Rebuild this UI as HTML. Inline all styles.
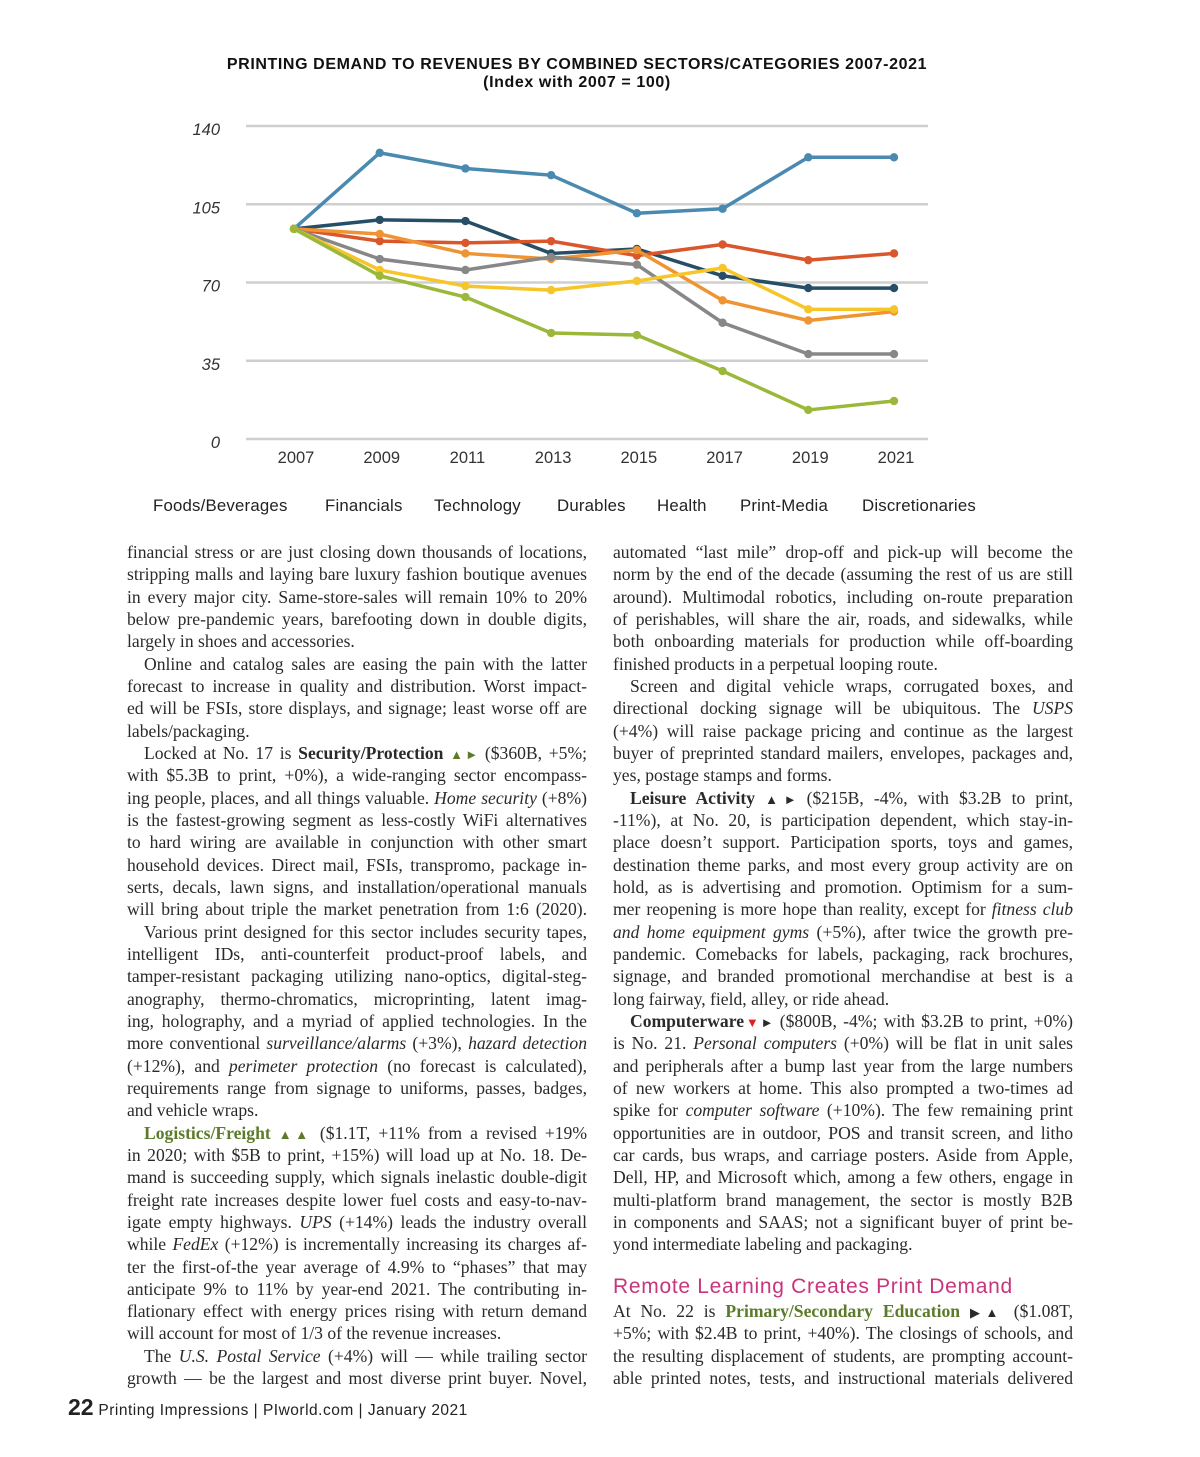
<!DOCTYPE html>
<html><head><meta charset="utf-8">
<style>
body{margin:0;width:1200px;height:1457px;background:#fff;position:relative;overflow:hidden;font-family:"Liberation Sans",sans-serif;color:#222}
.title{position:absolute;left:0;width:1154px;text-align:center;font-weight:bold;font-size:16px;letter-spacing:0.6px;color:#111}
.col{position:absolute;width:460px;font-family:"Liberation Serif",serif;font-size:17.6px;color:#2a2a2a;line-height:22.33px}
.col div{height:22.33px;overflow:hidden;text-align:justify;text-align-last:justify}
.col div.e{text-align-last:left}
.col div.i{text-indent:17px}
.g{color:#5b7a2a;font-weight:bold}
.tri{font-size:13px}
.leg{position:absolute;top:496px;font-size:16.8px;letter-spacing:0.2px;color:#222}
</style></head>
<body>
<div class="title" style="top:56px">PRINTING DEMAND TO REVENUES BY COMBINED SECTORS/CATEGORIES 2007-2021</div>
<div class="title" style="top:74px">(Index with 2007 = 100)</div>
<svg id="chart" width="1200" height="480" style="position:absolute;left:0;top:0"></svg>
<span class="leg" style="left:153px">Foods/Beverages</span>
<span class="leg" style="left:325px">Financials</span>
<span class="leg" style="left:434px">Technology</span>
<span class="leg" style="left:557px">Durables</span>
<span class="leg" style="left:657px">Health</span>
<span class="leg" style="left:740px">Print-Media</span>
<span class="leg" style="left:862px">Discretionaries</span>

<div class="col" style="left:127px;top:541px">
<div>financial stress or are just closing down thousands of locations,</div>
<div>stripping malls and laying bare luxury fashion boutique avenues</div>
<div>in every major city. Same-store-sales will remain 10% to 20%</div>
<div>below pre-pandemic years, barefooting down in double digits,</div>
<div class="e">largely in shoes and accessories.</div>
<div class="i">Online and catalog sales are easing the pain with the latter</div>
<div>forecast to increase in quality and distribution. Worst impact-</div>
<div>ed will be FSIs, store displays, and signage; least worse off are</div>
<div class="e">labels/packaging.</div>
<div class="i">Locked at No. 17 is <b>Security/Protection</b> <span class="g tri">▲►</span> ($360B, +5%;</div>
<div>with $5.3B to print, +0%), a wide-ranging sector encompass-</div>
<div>ing people, places, and all things valuable. <i>Home security</i> (+8%)</div>
<div>is the fastest-growing segment as less-costly WiFi alternatives</div>
<div>to hard wiring are available in conjunction with other smart</div>
<div>household devices. Direct mail, FSIs, transpromo, package in-</div>
<div>serts, decals, lawn signs, and installation/operational manuals</div>
<div>will bring about triple the market penetration from 1:6 (2020).</div>
<div class="i">Various print designed for this sector includes security tapes,</div>
<div>intelligent IDs, anti-counterfeit product-proof labels, and</div>
<div>tamper-resistant packaging utilizing nano-optics, digital-steg-</div>
<div>anography, thermo-chromatics, microprinting, latent imag-</div>
<div>ing, holography, and a myriad of applied technologies. In the</div>
<div>more conventional <i>surveillance/alarms</i> (+3%), <i>hazard detection</i></div>
<div>(+12%), and <i>perimeter protection</i> (no forecast is calculated),</div>
<div>requirements range from signage to uniforms, passes, badges,</div>
<div class="e">and vehicle wraps.</div>
<div class="i"><span class="g">Logistics/Freight</span> <span class="g tri">▲▲</span> ($1.1T, +11% from a revised +19%</div>
<div>in 2020; with $5B to print, +15%) will load up at No. 18. De-</div>
<div>mand is succeeding supply, which signals inelastic double-digit</div>
<div>freight rate increases despite lower fuel costs and easy-to-nav-</div>
<div>igate empty highways. <i>UPS</i> (+14%) leads the industry overall</div>
<div>while <i>FedEx</i> (+12%) is incrementally increasing its charges af-</div>
<div>ter the first-of-the year average of 4.9% to “phases” that may</div>
<div>anticipate 9% to 11% by year-end 2021. The contributing in-</div>
<div>flationary effect with energy prices rising with return demand</div>
<div class="e">will account for most of 1/3 of the revenue increases.</div>
<div class="i">The <i>U.S. Postal Service</i> (+4%) will — while trailing sector</div>
<div>growth — be the largest and most diverse print buyer. Novel,</div>
</div>

<div class="col" style="left:613px;top:541px">
<div>automated “last mile” drop-off and pick-up will become the</div>
<div>norm by the end of the decade (assuming the rest of us are still</div>
<div>around). Multimodal robotics, including on-route preparation</div>
<div>of perishables, will share the air, roads, and sidewalks, while</div>
<div>both onboarding materials for production while off-boarding</div>
<div class="e">finished products in a perpetual looping route.</div>
<div class="i">Screen and digital vehicle wraps, corrugated boxes, and</div>
<div>directional docking signage will be ubiquitous. The <i>USPS</i></div>
<div>(+4%) will raise package pricing and continue as the largest</div>
<div>buyer of preprinted standard mailers, envelopes, packages and,</div>
<div class="e">yes, postage stamps and forms.</div>
<div class="i"><b>Leisure Activity</b> <span class="tri">▲►</span> ($215B, -4%, with $3.2B to print,</div>
<div>-11%), at No. 20, is participation dependent, which stay-in-</div>
<div>place doesn’t support. Participation sports, toys and games,</div>
<div>destination theme parks, and most every group activity are on</div>
<div>hold, as is advertising and promotion. Optimism for a sum-</div>
<div>mer reopening is more hope than reality, except for <i>fitness club</i></div>
<div><i>and home equipment gyms</i> (+5%), after twice the growth pre-</div>
<div>pandemic. Comebacks for labels, packaging, rack brochures,</div>
<div>signage, and branded promotional merchandise at best is a</div>
<div class="e">long fairway, field, alley, or ride ahead.</div>
<div class="i"><b>Computerware</b><span class="tri"><span style="color:#d22">▼</span>►</span> ($800B, -4%; with $3.2B to print, +0%)</div>
<div>is No. 21. <i>Personal computers</i> (+0%) will be flat in unit sales</div>
<div>and peripherals after a bump last year from the large numbers</div>
<div>of new workers at home. This also prompted a two-times ad</div>
<div>spike for <i>computer software</i> (+10%). The few remaining print</div>
<div>opportunities are in outdoor, POS and transit screen, and litho</div>
<div>car cards, bus wraps, and carriage posters. Aside from Apple,</div>
<div>Dell, HP, and Microsoft which, among a few others, engage in</div>
<div>multi-platform brand management, the sector is mostly B2B</div>
<div>in components and SAAS; not a significant buyer of print be-</div>
<div class="e">yond intermediate labeling and packaging.</div>
</div>
<div style="position:absolute;left:613px;top:1275px;font-size:21px;letter-spacing:0.7px;color:#c8357c">Remote Learning Creates Print Demand</div>
<div class="col" style="left:613px;top:1300px">
<div>At No. 22 is <span class="g">Primary/Secondary Education</span> <span class="tri">▶▲</span> ($1.08T,</div>
<div>+5%; with $2.4B to print, +40%). The closings of schools, and</div>
<div>the resulting displacement of students, are prompting account-</div>
<div>able printed notes, tests, and instructional materials delivered</div>
</div>
<div style="position:absolute;left:68px;top:1394px;font-size:15.5px;letter-spacing:0.5px;color:#222;white-space:nowrap"><b style="font-size:23px;letter-spacing:0">22</b> Printing Impressions | PIworld.com | January 2021</div>

<script>
const years = ["2007","2009","2011","2013","2015","2017","2019","2021"];
const yTicks = [0,35,70,105,140];
const seriesColors = ["#4a8ab0","#264e66","#d9572a","#ee9433","#878787","#f5c52a","#9bb83a"];
const sBlue = [94,128,121,118,101,103,126,126];
const sNavy = [94,98,97.5,83,85,73,67.5,67.5];
const sRed = [94,88.5,87.7,88.5,82,87,80,83];
const sOrange = [94,91.7,83,80.5,84.5,62,53,57];
const sGray = [94,80.5,75.6,81.4,78,52,38,38];
const sYellow = [94,75.6,68.4,66.6,70.7,76.5,58,58];
const sGreen = [94,73,63.5,47.4,46.5,30.4,13,17];
const seriesNames = ["blue","navy","red","orange","gray","yellow","green"];
const allSeries = [sBlue,sNavy,sRed,sOrange,sGray,sYellow,sGreen];

const NS="http://www.w3.org/2000/svg";
const svg=document.getElementById('chart');
const x0=294,x1=894,yb=439,yt=126,vmax=140;
const xs=i=>x0+(x1-x0)*i/(years.length-1);
const ys=v=>yb-(yb-yt)*v/vmax;
function mk(t,a){const e=document.createElementNS(NS,t);for(const k in a)e.setAttribute(k,a[k]);svg.appendChild(e);return e;}
yTicks.forEach(v=>{
  const l=mk('line',{x1:246,x2:928,y1:ys(v),y2:ys(v),stroke:'#cfcfcf','stroke-width':2.5});
  
  
  const t=mk('text',{x:220,y:ys(v)+9,'text-anchor':'end','font-size':16.5,'font-style':'italic','font-family':'Liberation Sans, sans-serif',fill:'#333'});
  t.textContent=v;
  
  
});
years.forEach((y,i)=>{
  const t=mk('text',{x:xs(i)+2,y:463,'text-anchor':'middle','font-size':16.5,'font-family':'Liberation Sans, sans-serif',fill:'#333'});
  t.textContent=y;
  
  
});
allSeries.forEach((s,k)=>{
  const p=mk('polyline',{points:s.map((v,i)=>xs(i)+','+ys(v)).join(' '),fill:'none',stroke:seriesColors[k],'stroke-width':3.5,'stroke-linejoin':'round'});
  
  
  s.forEach((v,i)=>{
    const c=mk('circle',{cx:xs(i),cy:ys(v),r:4.2,fill:seriesColors[k]});
    
    
  });
});
</script>
</body></html>
